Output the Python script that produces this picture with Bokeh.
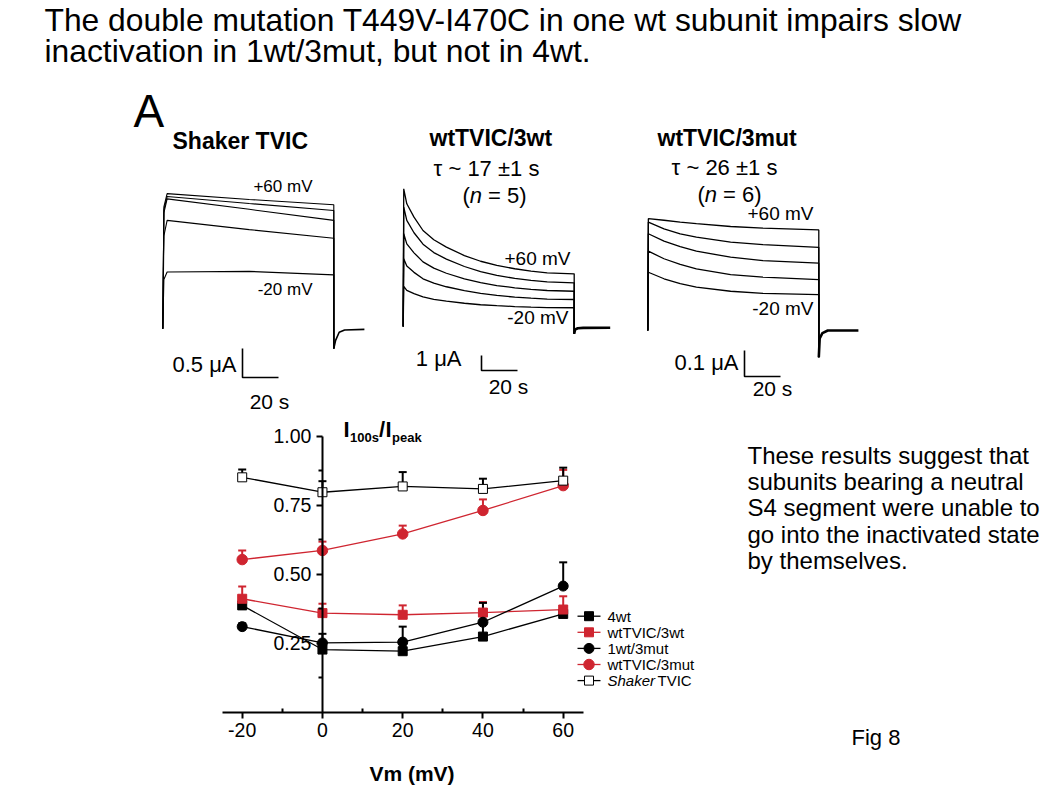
from bokeh.plotting import figure
from bokeh.models import (Range1d, LinearAxis, FixedTicker, ColumnDataSource,
                          Whisker, TeeHead, NumeralTickFormatter)
from bokeh.core.properties import value
from bokeh.embed import file_html
from bokeh.resources import INLINE

FONT = "Liberation Sans"
RED = "#cf2530"

# ---------------- lower chart data ----------------
vm = [-20, 0, 20, 40, 60]
x_ticks = [-20, 0, 20, 40, 60]
x_tick_labels = ["-20", "0", "20", "40", "60"]
x_minor = [-10, 10, 30, 50]
y_ticks = [0.25, 0.50, 0.75, 1.00]
y_minor = [0.125, 0.375, 0.625, 0.875]

names = ["4wt", "wtTVIC/3wt", "1wt/3mut", "wtTVIC/3mut", "Shaker TVIC"]
ratio_4wt = [0.387, 0.227, 0.221, 0.274, 0.356]
err_4wt = [0.030, 0.025, 0.014, 0.044, 0.025]
ratio_wt3wt = [0.411, 0.359, 0.353, 0.361, 0.372]
err_wt3wt = [0.044, 0.034, 0.034, 0.038, 0.048]
ratio_1wt3mut = [0.310, 0.251, 0.254, 0.326, 0.457]
err_1wt3mut = [0.012, 0.033, 0.056, 0.070, 0.086]
ratio_wt3mut = [0.553, 0.586, 0.646, 0.731, 0.821]
err_wt3mut = [0.033, 0.032, 0.030, 0.040, 0.057]
ratio_shaker = [0.851, 0.797, 0.818, 0.809, 0.839]
err_shaker = [0.028, 0.040, 0.052, 0.037, 0.047]

# ---------------- current traces (time s, current uA) ----------------
shaker_t = [0, 0.6, 2.4, 48, 95]
shaker_i = [
    [0, 2.10, 2.33, 2.23, 2.14],
    [0, 2.05, 2.28, 2.16, 2.04],
    [0, 2.00, 2.24, 2.06, 1.87],
    [0, 1.60, 1.87, 1.71, 1.56],
    [0, 0.85, 0.98, 0.99, 0.93],
]
shaker_tail_t = [95, 96, 98, 101, 112]
shaker_tail_i = [-0.34, -0.20, -0.06, -0.02, -0.01]

wt3wt_t = [0, 0.3, 2, 6, 11, 17, 24, 34, 43, 52, 62, 71, 80, 95]
wt3wt_i = [
    [0, 9.18, 8.18, 7.29, 6.40, 5.78, 5.29, 4.73, 4.35, 4.07, 3.85, 3.69, 3.58, 3.51],
    [0, 7.95, 7.07, 6.25, 5.49, 4.93, 4.49, 4.00, 3.66, 3.41, 3.21, 3.07, 2.97, 2.91],
    [0, 6.18, 5.51, 4.91, 4.31, 3.89, 3.55, 3.18, 2.93, 2.73, 2.58, 2.47, 2.40, 2.35],
    [0, 4.51, 4.03, 3.61, 3.18, 2.89, 2.65, 2.39, 2.21, 2.07, 1.96, 1.89, 1.83, 1.80],
    [0, 2.67, 2.41, 2.19, 1.97, 1.81, 1.69, 1.55, 1.45, 1.39, 1.33, 1.29, 1.26, 1.25],
]
wt3wt_tail_t = [95, 95.5, 97, 100, 115]
wt3wt_tail_i = [-0.49, -0.20, -0.12, -0.09, -0.08]

wt3mut_t = [0, 0.3, 9, 18, 27, 46, 64, 95]
wt3mut_i = [
    [0, 0.430, 0.424, 0.417, 0.411, 0.400, 0.394, 0.387],
    [0, 0.417, 0.391, 0.372, 0.359, 0.340, 0.330, 0.320],
    [0, 0.372, 0.344, 0.323, 0.305, 0.282, 0.269, 0.259],
    [0, 0.305, 0.276, 0.254, 0.237, 0.215, 0.205, 0.196],
    [0, 0.224, 0.199, 0.180, 0.167, 0.151, 0.143, 0.138],
]
wt3mut_tail_t = [95, 95.5, 97, 100, 117]
wt3mut_tail_i = [-0.103, -0.03, -0.01, 0.0, 0.0]

scalebar_current = [0.5, 1, 0.1]        # uA
scalebar_time = 20                       # s
scalebar_current_text = ["0.5 \u03bcA", "1 \u03bcA", "0.1 \u03bcA"]
panel_titles = ["Shaker TVIC", "wtTVIC/3wt", "wtTVIC/3mut"]

# ---------------- layout (page pixel geometry; canvas sits at page 0,0) ----------------
W, H = 1056, 791
PX0, PX1 = 0, W
PY0, PY1 = 0, H

cx_m20, cx_k = 241.7, 4.0125   # page x of -20 mV, px per mV
cy_0, cy_k = 711.7, 276.0      # page y of ratio 0, px per unit


def xr(anchor_val, anchor_px, k):
    return Range1d(anchor_val + (PX0 - anchor_px) / k, anchor_val + (PX1 - anchor_px) / k)


def yr(anchor_val, anchor_py, k):
    return Range1d(anchor_val + (anchor_py - PY1) / k, anchor_val + (anchor_py - PY0) / k)


p = figure(width=W, height=H, x_range=xr(-20, cx_m20, cx_k), y_range=yr(0, cy_0, cy_k),
           output_backend="svg", toolbar_location=None, tools="", min_border=0,
           x_axis_location=None, y_axis_location=None)
p.outline_line_color = None
p.background_fill_color = "white"
p.border_fill_color = "white"
p.grid.visible = False

# panels: (page x of t=0, page y of 0 uA, px per s, px per uA)
panels = [(162.3, 328.3, 1.8, 58.0), (402.7, 326.0, 1.8, 15.0), (647.3, 330.0, 1.8, 260.0)]
xx = {"px": Range1d(PX0, PX1)}
yy = {"px": Range1d(PY1, PY0)}
for n, (x0, yb, kx, ky) in enumerate(panels):
    xx[f"t{n}"] = xr(0, x0, kx)
    yy[f"i{n}"] = yr(0, yb, ky)
p.extra_x_ranges = xx
p.extra_y_ranges = yy


def put(x, y, s, size, style="normal", align="left", baseline="alphabetic", color="black"):
    # y is the text baseline (or the centre, for baseline="middle")
    if baseline == "alphabetic":
        y = y - 0.35 * size
    p.text(x=[x], y=[y], text=[s], x_range_name="px", y_range_name="px",
           text_font=value(FONT), text_font_size=value(f"{size}px"),
           text_font_style=value(style), text_align=align, text_baseline="middle",
           text_color=color, text_line_height=1.0)

# ---------------- title & side texts ----------------
put(44, 31, "The double mutation T449V-I470C in one wt subunit impairs slow", 31.8)
put(44, 62, "inactivation in 1wt/3mut, but not in 4wt.", 31.8)
side = ["These results suggest that", "subunits bearing a neutral",
        "S4 segment were unable to", "go into the inactivated state", "by themselves."]
for k, s in enumerate(side):
    put(747, 463 + k * 26.4, s, 24)
put(851, 745, "Fig 8", 22)

# ---------------- panel A traces ----------------
put(133, 127, "A", 46)
trace_sets = [(shaker_t, shaker_i, shaker_tail_t, shaker_tail_i, 1.1, 1.6),
              (wt3wt_t, wt3wt_i, wt3wt_tail_t, wt3wt_tail_i, 1.3, 2.6),
              (wt3mut_t, wt3mut_i, wt3mut_tail_t, wt3mut_tail_i, 1.3, 2.6)]
for n, (tt, ii, tl_t, tl_i, lw, tlw) in enumerate(trace_sets):
    for tr in ii:
        p.line(tt + [tt[-1]], tr + [tl_i[0]], x_range_name=f"t{n}", y_range_name=f"i{n}",
               line_color="black", line_width=lw)
    p.line(tl_t, tl_i, x_range_name=f"t{n}", y_range_name=f"i{n}",
           line_color="black", line_width=tlw)

# scale bars (corner page positions -> panel units)
bar_corners = [(242, 377), (481, 370), (744, 376)]
for n, ((x0, yb, kx, ky), (bx, by)) in enumerate(zip(panels, bar_corners)):
    tc, ic = (bx - x0) / kx, (yb - by) / ky
    p.line([tc, tc, tc + scalebar_time], [ic + scalebar_current[n], ic, ic],
           x_range_name=f"t{n}", y_range_name=f"i{n}", line_color="black", line_width=1.6)

put(236, 364, scalebar_current_text[0], 22, align="right", baseline="middle")
put(269, 401, f"{scalebar_time} s", 21, align="center", baseline="middle")
put(461, 358, scalebar_current_text[1], 22, align="right", baseline="middle")
put(508, 386, f"{scalebar_time} s", 21, align="center", baseline="middle")
put(738, 362, scalebar_current_text[2], 22, align="right", baseline="middle")
put(772, 388, f"{scalebar_time} s", 21, align="center", baseline="middle")

# panel headings
put(172, 149, panel_titles[0], 23, style="bold")
put(429, 146, panel_titles[1], 23, style="bold")
put(657, 146, panel_titles[2], 23, style="bold")
put(486, 176, "\u03c4 ~ 17 \u00b11 s", 22, align="center")
put(462, 203, "(", 22); put(469.3, 203, "n", 22, style="italic"); put(487.6, 203, "= 5)", 22)
put(724, 175, "\u03c4 ~ 26 \u00b11 s", 22, align="center")
put(697, 201.7, "(", 22); put(704.3, 201.7, "n", 22, style="italic"); put(722.6, 201.7, "= 6)", 22)
put(312, 192, "+60 mV", 17, align="right")
put(312, 295, "-20 mV", 17, align="right")
put(570, 265, "+60 mV", 19, align="right")
put(568, 324, "-20 mV", 19, align="right")
put(813, 220, "+60 mV", 19, align="right")
put(813, 315, "-20 mV", 19, align="right")

# ---------------- lower chart ----------------
series = [
    (names[0], ratio_4wt, err_4wt, "black", "square", "black", 9),
    (names[1], ratio_wt3wt, err_wt3wt, RED, "square", RED, 9),
    (names[2], ratio_1wt3mut, err_1wt3mut, "black", "circle", "black", 10),
    (names[3], ratio_wt3mut, err_wt3mut, RED, "circle", RED, 10.5),
    (names[4], ratio_shaker, err_shaker, "black", "square", "white", 9),
]
for name, vals, errs, col, mk, fill, sz in series:
    p.line(vm, vals, line_color=col, line_width=1.3)
for name, vals, errs, col, mk, fill, sz in series:
    src = ColumnDataSource(dict(x=vm, y=vals, up=[v + e for v, e in zip(vals, errs)]))
    p.add_layout(Whisker(source=src, base="x", lower="y", upper="up", dimension="height",
                         line_color=col, line_width=2,
                         upper_head=TeeHead(size=8, line_color=col, line_width=2),
                         lower_head=None))
for name, vals, errs, col, mk, fill, sz in series:
    p.scatter(vm, vals, marker=mk, size=sz, fill_color=fill,
              line_color=col if fill != "white" else "black", line_width=1)

xaxis = LinearAxis(fixed_location=0, bounds=(-25, 65),
                   ticker=FixedTicker(ticks=x_ticks, minor_ticks=x_minor),
                   major_label_overrides=dict(zip(x_ticks, x_tick_labels)),
                   major_tick_in=0, major_tick_out=6, minor_tick_in=4, minor_tick_out=0,
                   axis_line_width=2, major_tick_line_width=2, minor_tick_line_width=2,
                   major_label_text_font=FONT, major_label_text_font_size="19.5px",
                   major_label_text_color="black", major_label_standoff=5)
p.add_layout(xaxis, "below")
yaxis = LinearAxis(fixed_location=0, bounds=(0, 1.0),
                   ticker=FixedTicker(ticks=y_ticks, minor_ticks=y_minor),
                   formatter=NumeralTickFormatter(format="0.00"),
                   major_tick_in=0, major_tick_out=6, minor_tick_in=0, minor_tick_out=4,
                   axis_line_width=2, major_tick_line_width=2, minor_tick_line_width=2,
                   major_label_text_font=FONT, major_label_text_font_size="19.5px",
                   major_label_text_color="black", major_label_standoff=5)
p.add_layout(yaxis, "left")

put(411.5, 780, "Vm (mV)", 21, style="bold", align="center")
put(343, 437, "I", 22, style="bold")
put(349.5, 442, "100s", 13, style="bold")
put(378.5, 437, "/", 22, style="bold")
put(385, 437, "I", 22, style="bold")
put(391.5, 442, "peak", 13, style="bold")

# legend (manual, uses the series styles)
for k, (name, vals, errs, col, mk, fill, sz) in enumerate(series):
    ry = 615.7 + k * 16.1
    p.line([577, 600], [ry, ry], x_range_name="px", y_range_name="px", line_color=col, line_width=1.3)
    p.scatter([588.5], [ry], x_range_name="px", y_range_name="px", marker=mk, size=sz,
              fill_color=fill, line_color=col if fill != "white" else "black", line_width=1)
    if name.startswith("Shaker"):
        put(607, ry + 5.5, "Shaker", 15, style="italic")
        put(657, ry + 5.5, "TVIC", 15)
    else:
        put(607, ry + 5.5, name, 15)

open("out.html", "w").write(file_html(p, INLINE))
